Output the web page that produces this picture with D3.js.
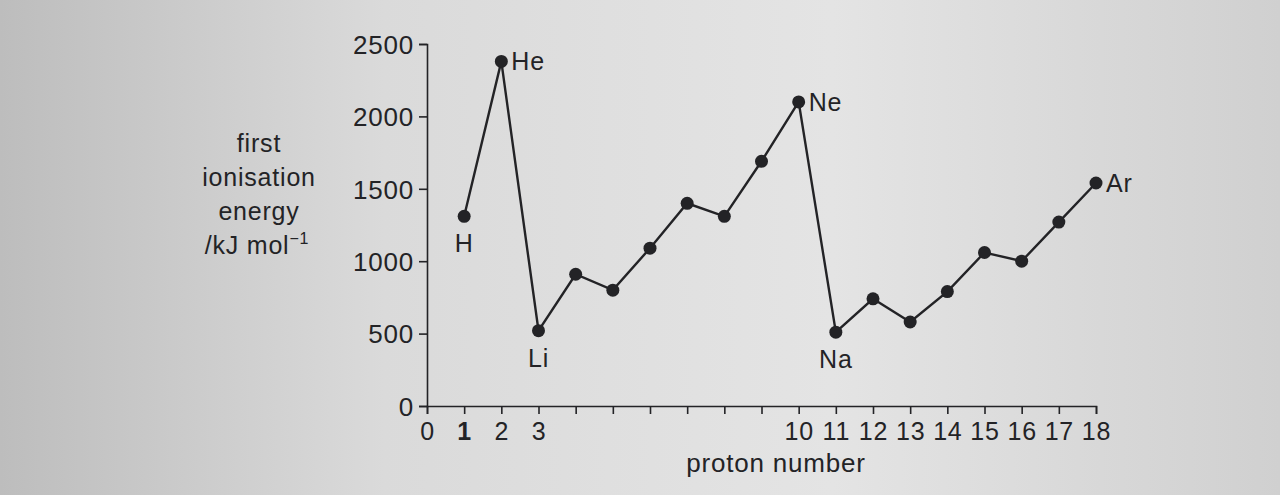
<!DOCTYPE html>
<html>
<head>
<meta charset="utf-8">
<script src="https://cdn.jsdelivr.net/npm/d3@7"></script>
<style>
  body { margin: 0; }
  svg { display: block; font-family: "Liberation Sans", Arial, sans-serif; }
  text { letter-spacing: 0.8px; }
</style>
</head>
<body>
<div id="chart"></div>
<script>
// proton number 1..18, first ionisation energy (kJ/mol)
const protonNumbers = [1, 2, 3, 4, 5, 6, 7, 8, 9, 10, 11, 12, 13, 14, 15, 16, 17, 18];
const energies = [1310, 2380, 520, 910, 800, 1090, 1400, 1310, 1690, 2100, 510, 740, 580, 790, 1060, 1000, 1270, 1540];
const elementLabels = ["H", "He", "Li", "", "", "", "", "", "", "Ne", "Na", "", "", "", "", "", "", "Ar"];
const xTickLabels = [0, 1, 2, 3, 10, 11, 12, 13, 14, 15, 16, 17, 18];
const yTicks = [0, 500, 1000, 1500, 2000, 2500];
const yTitle = ["first", "ionisation", "energy"];

const W = 1280, H = 495;
const ink = "#232326";
const fs = 25;

const svg = d3.select("#chart").append("svg")
  .attr("width", W)
  .attr("height", H);

// paper-ish background from the photo
const grad = svg.append("defs").append("linearGradient")
  .attr("id", "paper")
  .attr("x1", 0).attr("x2", 1).attr("y1", 0).attr("y2", 0);
grad.append("stop").attr("offset", "0%").attr("stop-color", "#bdbdbd");
grad.append("stop").attr("offset", "30%").attr("stop-color", "#dadada");
grad.append("stop").attr("offset", "65%").attr("stop-color", "#e4e4e4");
grad.append("stop").attr("offset", "100%").attr("stop-color", "#d0d0d0");
svg.append("rect").attr("width", W).attr("height", H).attr("fill", "url(#paper)");

const x = d3.scaleLinear().domain([0, 18]).range([427, 1096]);
const y = d3.scaleLinear().domain([0, 2500]).range([406, 44]);

// y axis
const yAxis = svg.append("g")
  .attr("transform", `translate(${x(0)},0)`)
  .call(d3.axisLeft(y)
    .tickValues(yTicks)
    .tickFormat(d3.format("d"))
    .tickSize(8).tickSizeOuter(8).tickPadding(5));
yAxis.selectAll("text")
  .attr("font-size", fs + 1)
  .attr("fill", ink)
  .attr("dy", "0.36em")
  .attr("font-family", "Liberation Sans, Arial, sans-serif");

// x axis
const xAxis = svg.append("g")
  .attr("transform", `translate(0,${y(0)})`)
  .call(d3.axisBottom(x)
    .tickValues(d3.range(0, 19))
    .tickSize(8)
    .tickSizeOuter(8)
    .tickPadding(8)
    .tickFormat(d => xTickLabels.includes(d) ? d : ""));
xAxis.selectAll("text")
  .attr("font-size", fs)
  .attr("fill", ink)
  .attr("font-weight", d => d === 1 ? "bold" : "normal")
  .attr("font-family", "Liberation Sans, Arial, sans-serif");

svg.selectAll(".domain, .tick line")
  .attr("stroke", ink)
  .attr("stroke-width", 1.6);

// axis titles
svg.append("text")
  .attr("x", 776)
  .attr("y", 472)
  .attr("text-anchor", "middle")
  .attr("font-size", fs + 1)
  .attr("fill", ink)
  .text("proton number");

const yt = svg.append("text")
  .attr("text-anchor", "middle")
  .attr("font-size", fs)
  .attr("fill", ink);
yTitle.forEach((t, i) => {
  yt.append("tspan").attr("x", 259).attr("y", 152 + i * 34).text(t);
});
const unit = svg.append("text")
  .attr("x", 257)
  .attr("y", 254)
  .attr("text-anchor", "middle")
  .attr("font-size", fs)
  .attr("fill", ink);
unit.append("tspan").text("/kJ mol");
unit.append("tspan").attr("font-size", 16).attr("dy", -10).text("\u22121");

// line + points
const pts = protonNumbers.map((p, i) => ({ p, e: energies[i], label: elementLabels[i] }));

svg.append("path")
  .datum(pts)
  .attr("fill", "none")
  .attr("stroke", ink)
  .attr("stroke-width", 2.4)
  .attr("d", d3.line().x(d => x(d.p)).y(d => y(d.e)));

svg.selectAll("circle.pt")
  .data(pts)
  .enter()
  .append("circle")
  .attr("class", "pt")
  .attr("cx", d => x(d.p))
  .attr("cy", d => y(d.e))
  .attr("r", 6.5)
  .attr("fill", ink);

// element labels: below for H, Li, Na; right for He, Ne, Ar
const below = ["H", "Li", "Na"];
svg.selectAll("text.el")
  .data(pts.filter(d => d.label))
  .enter()
  .append("text")
  .attr("class", "el")
  .attr("font-size", fs)
  .attr("fill", ink)
  .attr("text-anchor", d => below.includes(d.label) ? "middle" : "start")
  .attr("x", d => below.includes(d.label) ? x(d.p) : x(d.p) + 10)
  .attr("y", d => below.includes(d.label) ? y(d.e) + 36 : y(d.e) + 9)
  .text(d => d.label);
</script>
</body>
</html>
